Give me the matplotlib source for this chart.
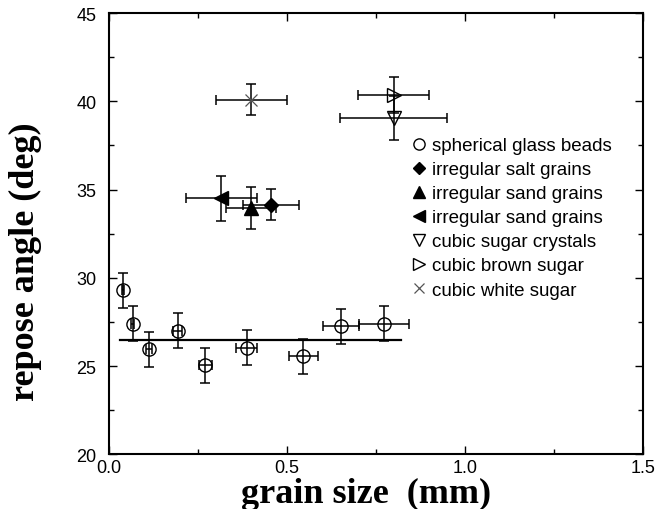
import matplotlib
matplotlib.use("Agg")
import matplotlib.pyplot as plt

# spherical glass beads
glass_x = [0.040, 0.066, 0.113, 0.193, 0.270, 0.387, 0.546, 0.651, 0.773]
glass_y = [29.3, 27.4, 25.95, 27.0, 25.05, 26.05, 25.55, 27.25, 27.4]
glass_xerr = [0.003, 0.005, 0.008, 0.012, 0.018, 0.029, 0.041, 0.051, 0.070]
glass_yerr = [1.0, 1.0, 1.0, 1.0, 1.0, 1.0, 1.0, 1.0, 1.0]

# mean repose angle for the glass beads
fit_x = [0.03, 0.82]
fit_y = [26.5, 26.5]

# other materials: label, x, y, xerr, yerr
salt = ("irregular salt grains", 0.455, 34.15, 0.08, 0.88)
sand_up = ("irregular sand grains", 0.400, 33.95, 0.07, 1.18)
sand_left = ("irregular sand grains", 0.315, 34.5, 0.10, 1.28)
sugar_crystals = ("cubic sugar crystals", 0.800, 39.05, 0.15, 1.25)
brown_sugar = ("cubic brown sugar", 0.800, 40.35, 0.10, 1.0)
white_sugar = ("cubic white sugar", 0.400, 40.1, 0.10, 0.9)

plt.rcParams["font.family"] = ["Liberation Sans", "DejaVu Sans"]

fig = plt.figure(figsize=(6.69, 5.10), dpi=100)
ax = fig.add_axes([0.163, 0.107, 0.798, 0.8655])

eb = dict(fmt="none", ecolor="black", elinewidth=1.1, capsize=3.6, capthick=1.1)

ax.plot(fit_x, fit_y, color="black", lw=1.6, zorder=2)

ax.errorbar(glass_x, glass_y, xerr=glass_xerr, yerr=glass_yerr, **eb)
ax.plot(glass_x, glass_y, "o", ms=9.5, mfc="none", mec="black", mew=1.0,
        label="spherical glass beads")

styles = [
    (salt, dict(marker="D", ms=7, mfc="black", mec="black")),
    (sand_up, dict(marker="^", ms=9.5, mfc="black", mec="black")),
    (sand_left, dict(marker="<", ms=9.5, mfc="black", mec="black")),
    (sugar_crystals, dict(marker="v", ms=10, mfc="none", mec="black", mew=1.0)),
    (brown_sugar, dict(marker=">", ms=10, mfc="none", mec="black", mew=1.0)),
    (white_sugar, dict(marker="x", ms=9, mec="#555555", mew=0.9)),
]
for (lab, x, y, xe, ye), st in styles:
    ax.errorbar([x], [y], xerr=[xe], yerr=[ye], **eb)
    ax.plot([x], [y], ls="none", label=lab, **st)

ax.set_xlim(0, 1.5)
ax.set_ylim(20, 45)
ax.set_xticks([0, 0.5, 1.0, 1.5])
ax.set_xticklabels(["0.0", "0.5", "1.0", "1.5"])
ax.set_xticks([0.25, 0.75, 1.25], minor=True)
ax.set_yticks([20, 25, 30, 35, 40, 45])
ax.set_yticks([22.5, 27.5, 32.5, 37.5, 42.5], minor=True)
ax.tick_params(which="both", direction="in", top=True, right=True, labelsize=13)
ax.tick_params(axis="y", which="major", pad=9)
ax.tick_params(which="major", length=6, width=1.0)
ax.tick_params(which="minor", length=3.5, width=1.0)
for s in ax.spines.values():
    s.set_linewidth(1.5)

ax.set_xlabel("grain size  (mm)", fontsize=26, fontweight="bold",
              family="Liberation Serif")
ax.set_ylabel("repose angle (deg)", fontsize=26, fontweight="bold",
              family="Liberation Serif")
ax.xaxis.set_label_coords(0.481, -0.05)
ax.yaxis.set_label_coords(-0.125, 0.44)

ax.legend(loc="upper left", bbox_to_anchor=(0.553, 0.736), frameon=False,
          fontsize=13.5, handlelength=0.8, handletextpad=0.3,
          labelspacing=0.37, borderaxespad=0, markerscale=0.85)

fig.savefig("out.png", dpi=100)
